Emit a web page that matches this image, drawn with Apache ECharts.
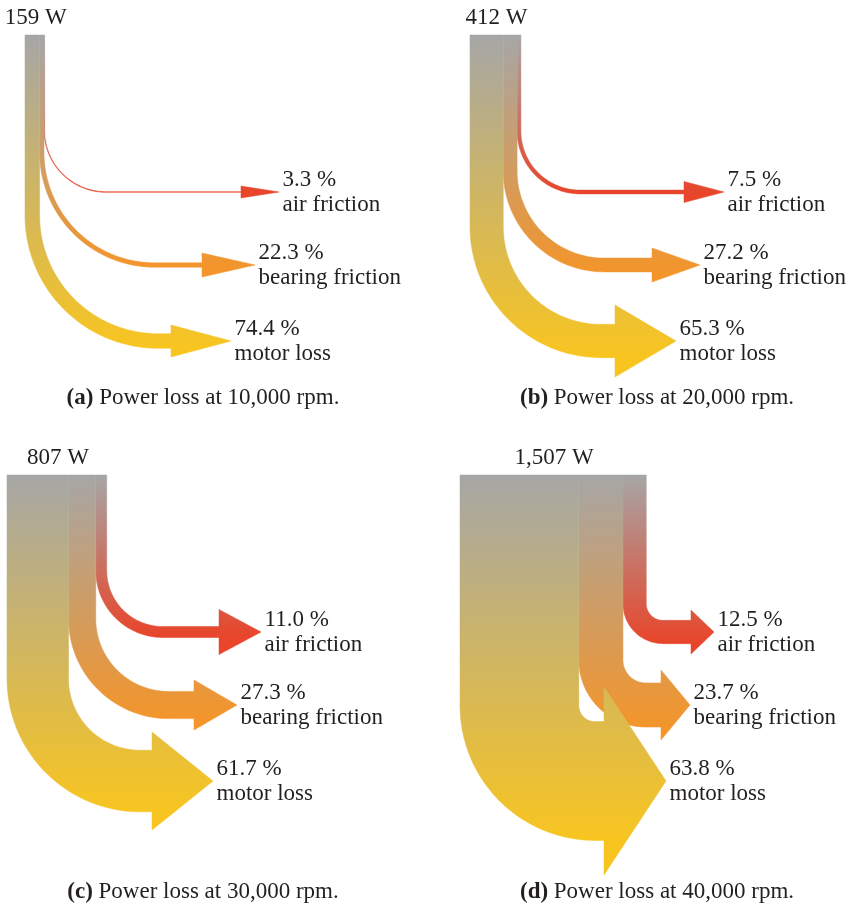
<!DOCTYPE html>
<html>
<head>
<meta charset="utf-8">
<script src="https://cdn.jsdelivr.net/npm/echarts@6/dist/echarts.min.js"></script>
<style>
  html, body { margin: 0; padding: 0; background: #ffffff; }
  #chart { width: 853px; height: 907px; }
</style>
</head>
<body>
<div id="chart"></div>
<script>
// Breakdown of the power loss of a high-speed machine at four rotor speeds.
const panelTags    = ['(a)', '(b)', '(c)', '(d)'];
const speeds       = ['10,000', '20,000', '30,000', '40,000'];
const totalLoss    = [159, 412, 807, 1507];        // W
const lossNames    = ['air friction', 'bearing friction', 'motor loss'];
const airShare     = [3.3, 7.5, 11.0, 12.5];       // %
const bearingShare = [22.3, 27.2, 27.3, 23.7];     // %
const motorShare   = [74.4, 65.3, 61.7, 63.8];     // %

// ---- layout & style ----
const PX_PER_W   = 0.1236;                          // band thickness per watt
const PANEL_POS  = [[25, 35], [470, 35], [7, 475], [460, 475]];
const CAPTION_XY = [[203, 398], [657, 398], [203, 892], [657, 892]];
const ROW_Y      = [157, 230, 306];                 // arrow centre line below the bar top (air, bearing, motor)
const TIP_X      = [254, 230, 206];                 // arrow tip to the right of the bar's left edge
const BEND       = [[62, 115, 133], [63, 101, 131], [67, 100, 133], [40, 67, 135]];  // outer bend radius
const HEAD_LEN   = [[38, 53, 60], [40, 48, 61], [42, 43, 61], [23, 29, 62]];
const HEAD_H     = [[12, 24, 32], [21, 34, 72], [45, 50, 98], [44, 70, 188]];
const COLORS     = ['#e8452a', '#f3952b', '#f8c520'];
const GREY       = '#a6a6a6';
const INK        = '#231f20';
const FONT       = '"Liberation Serif", "Times New Roman", serif';
const GRID_W = 370, GRID_H = 420;

function makeRenderer(panel) {
  return function (params, api) {
    const start = api.value(0), width = api.value(1), pct = api.value(2), f = api.value(3);
    const origin = api.coord([0, 0]);
    const pL = api.coord([start, 0]);
    const pR = api.coord([start + width, 0]);
    const xl = pL[0], xr = pR[0], top = pL[1];
    const bw = xr - xl;
    const yh = top + ROW_Y[f];
    const bottom = yh + bw / 2, upper = yh - bw / 2;
    const R = BEND[panel][f];
    const r = Math.max(R - bw, 0);
    const xc = xl + R, yc = bottom - R;
    const tip = origin[0] + TIP_X[f];
    const base = tip - HEAD_LEN[panel][f];
    const hh = HEAD_H[panel][f] / 2;

    const pts = [[xl, top], [xl, yc]];
    const N = 48;
    for (let k = 1; k <= N; k++) {
      const t = Math.PI - (Math.PI / 2) * k / N;
      pts.push([xc + R * Math.cos(t), yc + R * Math.sin(t)]);
    }
    pts.push([base, bottom], [base, yh + hh], [tip, yh], [base, yh - hh], [base, upper]);
    for (let k = 0; k <= N; k++) {
      const t = Math.PI / 2 + (Math.PI / 2) * k / N;
      pts.push([xc + r * Math.cos(t), yc + r * Math.sin(t)]);
    }
    pts.push([xr, top]);

    const grad = {
      type: 'linear', x: 0, y: top, x2: 0, y2: bottom, global: true,
      colorStops: [{ offset: 0, color: GREY }, { offset: 1, color: COLORS[f] }]
    };

    const children = [
      {
        type: 'polygon',
        shape: { points: pts },
        style: { fill: grad, stroke: grad, lineWidth: 0.5 }
      },
      {
        type: 'text',
        style: {
          text: pct.toFixed(1) + ' %\n' + lossNames[f],
          x: tip + 3.5, y: yh,
          align: 'left', verticalAlign: 'middle',
          fontFamily: FONT, fontSize: 23, lineHeight: 25, fill: INK
        }
      }
    ];
    if (f === 0) {
      // source label above the bar
      const endX = api.coord([start + width, 0])[0];
      children.push({
        type: 'text',
        style: {
          text: totalLoss[panel].toLocaleString('en-US') + ' W',
          x: (origin[0] + endX) / 2 + 1, y: top - 17.5,
          align: 'center', verticalAlign: 'middle',
          fontFamily: FONT, fontSize: 23, fill: INK
        }
      });
    }
    return { type: 'group', children: children };
  };
}

const grids = [], xAxes = [], yAxes = [], series = [], graphics = [];
for (let i = 0; i < 4; i++) {
  grids.push({ left: PANEL_POS[i][0], top: PANEL_POS[i][1], width: GRID_W, height: GRID_H });
  xAxes.push({ gridIndex: i, type: 'value', min: 0, max: GRID_W / PX_PER_W, show: false });
  yAxes.push({ gridIndex: i, type: 'value', min: 0, max: GRID_H / PX_PER_W, inverse: true, show: false });

  const shares = [airShare[i], bearingShare[i], motorShare[i]];
  const widthW = shares.map(p => totalLoss[i] * p / 100);
  // left to right inside the bar: motor loss, bearing friction, air friction
  const startW = [widthW[2] + widthW[1], widthW[2], 0];
  const data = [0, 1, 2].map(f => [startW[f], widthW[f], shares[f], f]);

  series.push({
    type: 'custom',
    xAxisIndex: i, yAxisIndex: i,
    coordinateSystem: 'cartesian2d',
    clip: false,
    silent: true,
    animation: false,
    renderItem: makeRenderer(i),
    encode: { x: 0, y: -1 },
    data: data
  });

  graphics.push({
    type: 'text',
    x: CAPTION_XY[i][0], y: CAPTION_XY[i][1],
    style: {
      text: '{b|' + panelTags[i] + '} {n|Power loss at ' + speeds[i] + ' rpm.}',
      align: 'center', verticalAlign: 'middle',
      fontFamily: FONT, fontSize: 23, fill: INK,
      rich: {
        b: { fontFamily: FONT, fontSize: 23, fontWeight: 'bold', fill: INK },
        n: { fontFamily: FONT, fontSize: 23, fill: INK }
      }
    }
  });
}

const chart = echarts.init(document.getElementById('chart'), null, { renderer: 'canvas' });
chart.setOption({
  backgroundColor: '#ffffff',
  animation: false,
  grid: grids,
  xAxis: xAxes,
  yAxis: yAxes,
  series: series,
  graphic: graphics
});
</script>
</body>
</html>
